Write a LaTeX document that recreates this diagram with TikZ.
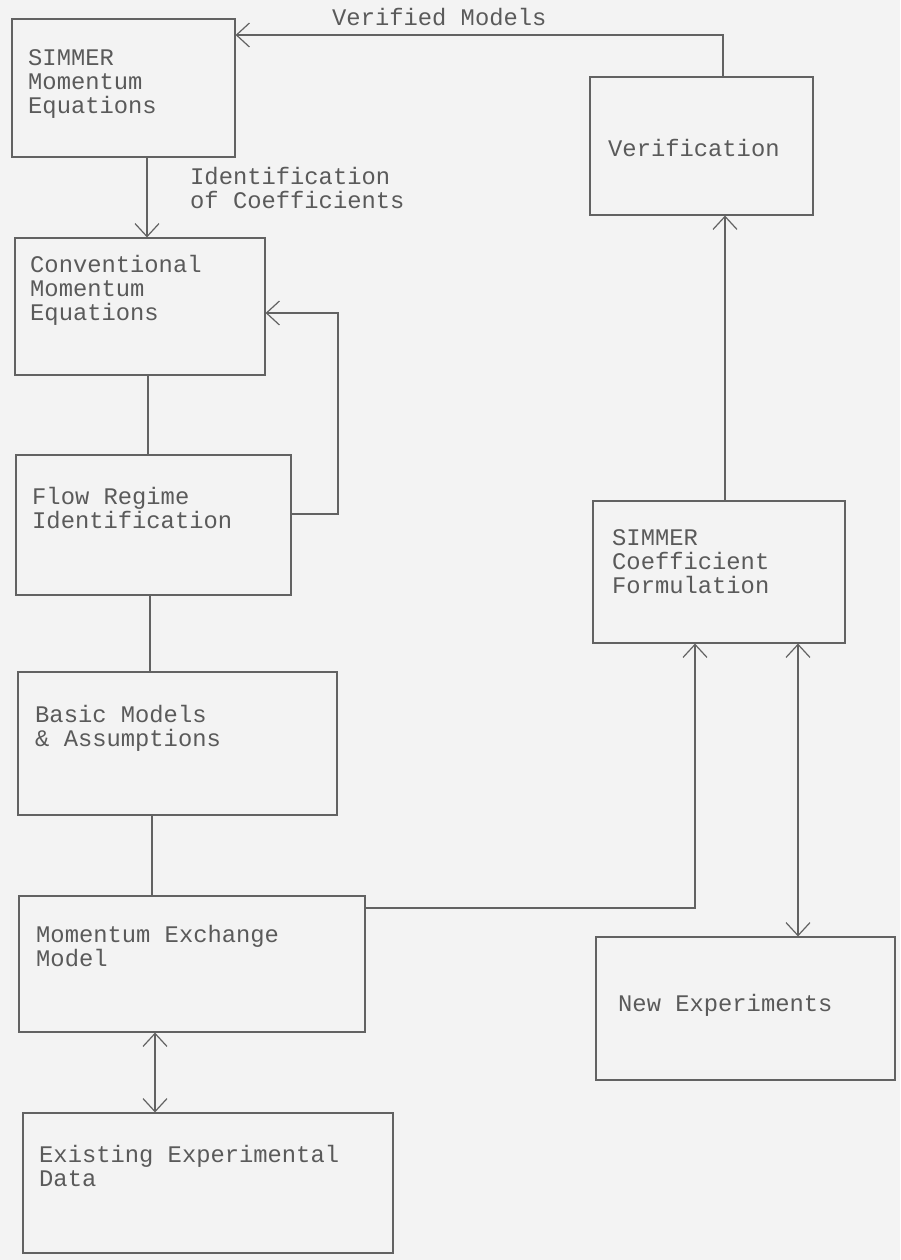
\documentclass[tikz,border=0pt]{standalone}
\usepackage{fontspec}
\setmonofont{Liberation Mono}
\usetikzlibrary{arrows.meta,fit,calc}
\definecolor{bgc}{HTML}{F3F3F3}
\definecolor{linec}{HTML}{626262}
\definecolor{textc}{HTML}{5A5A5A}
\begin{document}
\begin{tikzpicture}[x=1pt,y=-1pt,
  box/.style={draw=linec, line width=1.1pt, inner sep=0pt, fit={#1}},
  lbl/.style={text=textc, font=\ttfamily\fontsize{23.8}{24}\selectfont, align=left, inner sep=0pt, anchor=north west},
  slbl/.style={text=textc, font=\ttfamily\fontsize{23.8}{24}\selectfont, inner sep=0pt, anchor=base west},
  conn/.style={draw=linec, line width=1.1pt},
  arr/.style={conn, -{Straight Barb[length=13pt,width=24pt,line width=1.2pt]}},
  darr/.style={conn, {Straight Barb[length=13pt,width=24pt,line width=1.2pt]}-{Straight Barb[length=13pt,width=24pt,line width=1.2pt]}}
]
\useasboundingbox (0,0) rectangle (900,1260);
\fill[bgc] (0,0) rectangle (900,1260);

% boxes
\node[box={(12,19) (235,157)}] (b1) {};
\node[box={(15,238) (265,375)}] (b2) {};
\node[box={(16,455) (291,595)}] (b3) {};
\node[box={(18,672) (337,815)}] (b4) {};
\node[box={(19,896) (365,1032)}] (b5) {};
\node[box={(23,1113) (393,1253)}] (b6) {};
\node[box={(590,77) (813,215)}] (ver) {};
\node[box={(593,501) (845,643)}] (coef) {};
\node[box={(596,937) (895,1080)}] (nexp) {};

% texts
\node[lbl] (t1) at (28,49) {SIMMER\\Momentum\\Equations};
\node[lbl] (t2) at (30,255) {Conventional\\Momentum\\Equations};
\node[lbl] (t3) at (32,487) {Flow Regime\\Identification};
\node[lbl] (t4) at (35,705) {Basic Models\\\& Assumptions};
\node[lbl] (t5) at (36,925) {Momentum Exchange\\Model};
\node[lbl] (t6) at (39,1145) {Existing Experimental\\Data};
\node[slbl] (tver) at (608,157) {Verification};
\node[lbl] (tcoef) at (612,529) {SIMMER\\Coefficient\\Formulation};
\node[slbl] (tnexp) at (618,1011) {New Experiments};
\node[slbl] (tvm) at (332,26) {Verified Models};
\node[lbl] (tid) at (190,167) {Identification\\of Coefficients};

% helper coordinates
\coordinate (vm) at (723,35);
\coordinate (c12) at (147,0);
\coordinate (c23) at (148,0);
\coordinate (c34) at (150,0);
\coordinate (c45) at (152,0);
\coordinate (c56) at (155,0);
\coordinate (fb1) at (338,514);
\coordinate (fb2) at (338,313);
\coordinate (mx1) at (695,908);
\coordinate (cv) at (725,0);
\coordinate (cn) at (798,0);

% connectors
\draw[arr, line width=1.6pt] (ver.north -| vm) -- (vm) -- (vm -| b1.east);
\draw[arr] (b1.south -| c12) -- (b2.north -| c12);
\draw[conn] (b2.south -| c23) -- (b3.north -| c23);
\draw[conn] (b3.south -| c34) -- (b4.north -| c34);
\draw[conn] (b4.south -| c45) -- (b5.north -| c45);
\draw[arr] (b3.east |- fb1) -- (fb1) -- (fb2) -- (b2.east |- fb2);
\draw[darr] (b5.south -| c56) -- (b6.north -| c56);
\draw[arr] (b5.east |- mx1) -- (mx1) -- (coef.south -| mx1);
\draw[arr] (coef.north -| cv) -- (ver.south -| cv);
\draw[darr] (coef.south -| cn) -- (nexp.north -| cn);
\end{tikzpicture}
\end{document}
